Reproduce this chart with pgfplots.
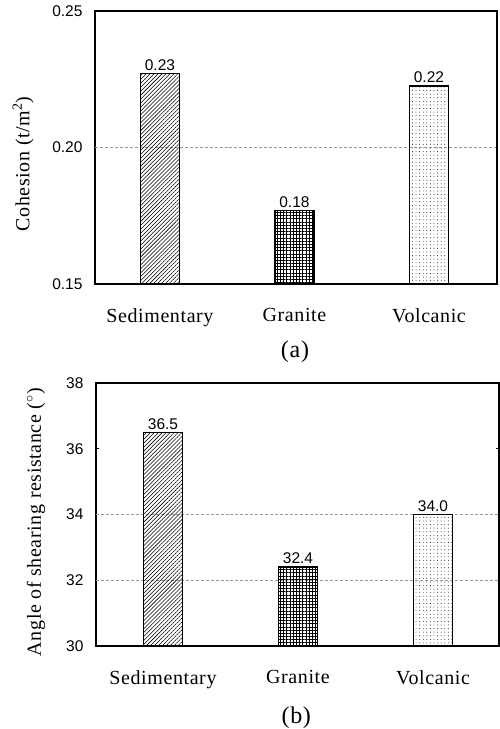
\documentclass[border=0pt]{standalone}
\usepackage{fontspec}
\setmainfont{Liberation Serif}
\newfontfamily\arial{Liberation Sans}
\newfontfamily\serifls[LetterSpace=3]{Liberation Serif}
\usepackage{pgfplots}
\pgfplotsset{compat=1.18}
\usetikzlibrary{patterns.meta}
\newcommand{\lab}{\serifls\fontsize{20bp}{22bp}\selectfont}
\newcommand{\tkl}{\arial\fontsize{15.5bp}{17bp}\selectfont}
\newcommand{\pan}{\serifls\fontsize{24bp}{26bp}\selectfont}
\pgfplotsset{
  panel/.style={
    scale only axis, clip mode=individual,
    ybar, bar width=39bp, bar shift=0pt,
    axis line style={line width=1.3pt},
    xtick={0,1,2}, xticklabels={Sedimentary,Granite,Volcanic},
    x tick label style={font=\lab},
    xtick style={draw=none},
    y tick label style={font=\tkl, xshift=-9bp},
    /pgf/number format/assume math mode=true,
    ytick style={line width=0.6pt, black},
    major tick length=3bp, tick align=inside,
    ylabel style={font=\lab},
    nodes near coords, every node near coord/.append style={font=\tkl, yshift=-1bp},
    extra y tick style={grid=major, major grid style={densely dashed, gray!80, line width=0.6pt}, tick style={draw=none}},
    extra y tick labels={},
  },
  sed/.style={draw=black, line width=1.3pt, pattern={Lines[angle=45,distance=2.8pt,line width=0.55pt]}},
  gra/.style={draw=black, line width=1.3pt, pattern={Hatch[angle=0,distance=3.2pt,line width=0.9pt]}},
  vol/.style={draw=black, line width=1.3pt, pattern={Dots[distance=3.6pt,radius=0.45pt]}},
}
\begin{document}
\begin{tikzpicture}
\useasboundingbox (0,0) rectangle (500bp,729bp);
% panel (a)
\begin{axis}[panel,
  at={(95bp,445bp)}, anchor=south west,
  width=402bp, height=273bp,
  xmin=-0.483, xmax=2.506,
  ymin=0.15, ymax=0.25,
  ytick={0.15,0.20,0.25},
  x tick label style={yshift=-21bp},
  yticklabel style={/pgf/number format/.cd, fixed, fixed zerofill, precision=2},
  nodes near coords={\pgfmathprintnumber[fixed,fixed zerofill,precision=2]{\pgfplotspointmeta}},
  extra y ticks={0.20},
  ylabel={Cohesion (t/m\textsuperscript{2})},
  ylabel style={at={(axis description cs:-0.179,0.44)}, anchor=center},
]
\addplot[sed] coordinates {(0,0.227)};
\addplot[gra] coordinates {(1,0.177)};
\addplot[vol] coordinates {(2,0.2225)};
\node[font=\pan] at (axis description cs:0.4975,-0.249) {(a)};
\end{axis}
% panel (b)
\begin{axis}[panel,
  at={(96bp,83bp)}, anchor=south west,
  width=403bp, height=263bp,
  xmin=-0.496, xmax=2.489,
  ymin=30, ymax=38,
  ytick={30,32,34,36,38},
  x tick label style={yshift=-21bp},
  nodes near coords={\pgfmathprintnumber[fixed,fixed zerofill,precision=1]{\pgfplotspointmeta}},
  extra y ticks={32,34},
  ylabel={Angle of shearing resistance ($^{\circ}$)},
  ylabel style={at={(axis description cs:-0.149,0.471)}, anchor=center},
]
\addplot[sed] coordinates {(0,36.5)};
\addplot[gra] coordinates {(1,32.4)};
\addplot[vol] coordinates {(2,34.0)};
\node[font=\pan] at (axis description cs:0.497,-0.274) {(b)};
\end{axis}
\end{tikzpicture}
\end{document}
